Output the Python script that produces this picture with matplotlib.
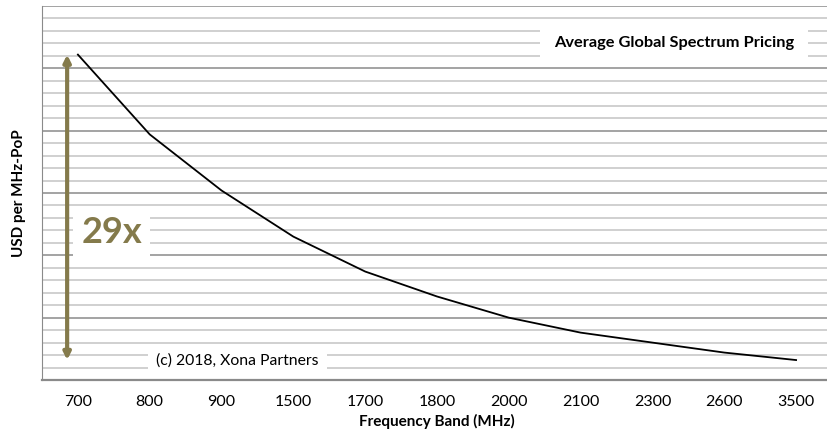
import numpy as np
import matplotlib
matplotlib.use('Agg')
import matplotlib.pyplot as plt

# frequency bands and average price (USD per MHz-PoP)
bands = ['700', '800', '900', '1500', '1700', '1800', '2000', '2100', '2300', '2600', '3500']
price = [26.1, 19.7, 15.2, 11.5, 8.7, 6.7, 5.0, 3.8, 3.0, 2.2, 1.6]

olive = '#847a4b'
plt.rcParams['font.family'] = ['Lato', 'DejaVu Sans']

fig = plt.figure(figsize=(8.28, 4.38), dpi=100)
ax = fig.add_axes([42 / 828, 1 - 380 / 438, 790 / 828, 374 / 438])

x = np.arange(len(bands))
ax.plot(x, price, color='black', lw=1.3, zorder=3)

ax.set_xlim(-0.5, len(bands) - 0.5)
ax.set_ylim(0, 30)
ax.set_yticks(np.arange(0, 31, 5))
ax.set_yticks(np.arange(0, 31, 1), minor=True)
ax.grid(True, axis='y', which='minor', color='#c4c4c4', lw=1.1, zorder=0)
ax.grid(True, axis='y', which='major', color='#8a8a8a', lw=1.1, zorder=0)
ax.set_yticklabels([])
ax.tick_params(axis='y', which='both', length=0)
ax.set_xticks(x)
ax.set_xticklabels(bands, fontsize=11.5)
ax.tick_params(axis='x', length=0, pad=11)

for s in ['top', 'right']:
    ax.spines[s].set_visible(False)
ax.spines['left'].set_color('#8a8a8a')
ax.spines['bottom'].set_color('#8a8a8a')
ax.spines['bottom'].set_linewidth(1.6)

ax.set_xlabel('Frequency Band (MHz)', fontsize=11, fontweight='bold', labelpad=3)
ax.set_ylabel('USD per MHz-PoP', fontsize=11, fontweight='bold', labelpad=8)

# double arrow showing the ratio between 700 and 3500
ax.annotate('', xy=(-0.15, price[-1]), xytext=(-0.15, price[0]),
            arrowprops=dict(arrowstyle='<|-|>', color=olive, lw=3,
                            mutation_scale=10, shrinkA=0, shrinkB=0),
            zorder=5)
ax.text(0.47, 11.8, '29x', fontsize=26, fontweight='bold', color=olive,
        ha='center', va='center', zorder=4,
        bbox=dict(facecolor='white', edgecolor='none', pad=6))

ax.text(8.3, 27.0, 'Average Global Spectrum Pricing', fontsize=11.8, fontweight='bold',
        ha='center', va='center', zorder=4,
        bbox=dict(facecolor='white', edgecolor='none', pad=10))
ax.text(2.22, 1.55, '(c) 2018, Xona Partners', fontsize=11.3,
        ha='center', va='center', zorder=4,
        bbox=dict(facecolor='white', edgecolor='none', pad=6))

fig.savefig('out.png', dpi=100)
